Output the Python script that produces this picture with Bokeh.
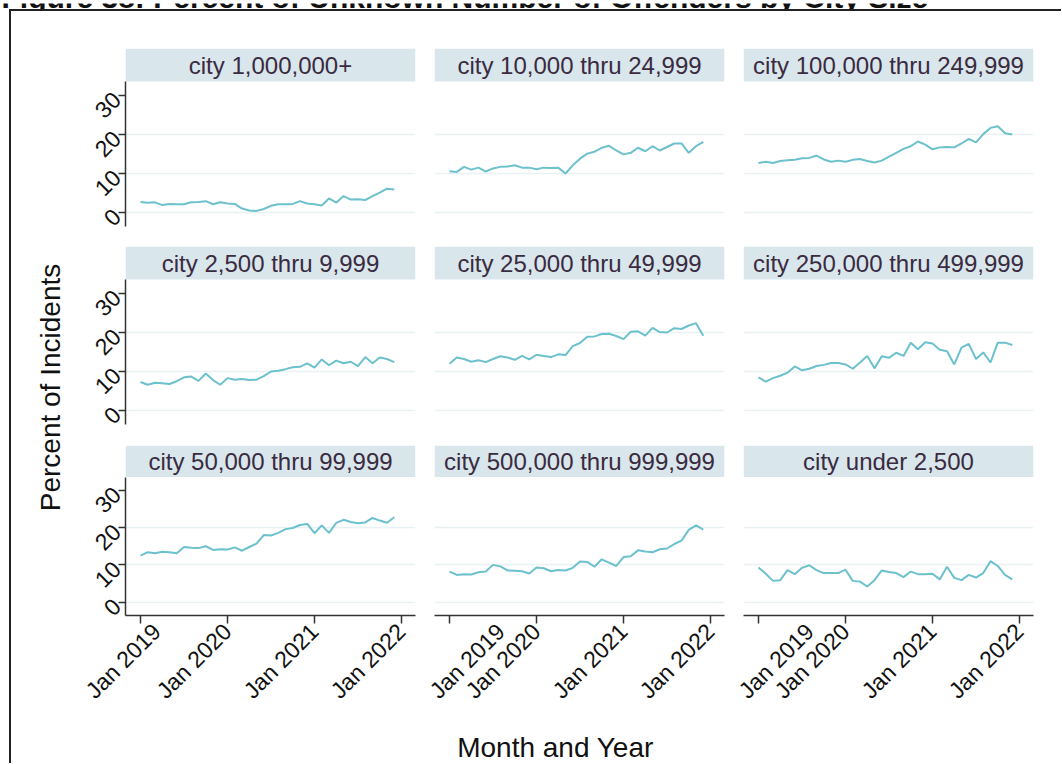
import math
from bokeh.plotting import figure
from bokeh.layouts import row, column
from bokeh.models import Range1d, FixedTicker, Div, Label
from bokeh.embed import file_html
from bokeh.resources import INLINE
from bokeh.core.properties import value

# ---------------- data ----------------
months = [f"{y}-{m:02d}" for y in (2019, 2020, 2021) for m in range(1, 13)]
month_pos = [(int(s[:4]) - 2019) * 12 + int(s[5:]) - 1 for s in months]

tick_months = [0, 12, 24, 36]
tick_labels = ["Jan 2019", "Jan 2020", "Jan 2021", "Jan 2022"]
y_ticks = [0, 10, 20, 30]

fig_title = "Figure 38: Percent of Unknown Number of Offenders by City Size"

panel_titles = [
    "city 1,000,000+", "city 10,000 thru 24,999", "city 100,000 thru 249,999",
    "city 2,500 thru 9,999", "city 25,000 thru 49,999", "city 250,000 thru 499,999",
    "city 50,000 thru 99,999", "city 500,000 thru 999,999", "city under 2,500",
]

city_1m_plus = [2.7, 2.5, 2.6, 1.9, 2.2, 2.1, 2.1, 2.6, 2.7, 2.9, 2.1, 2.6,
                2.3, 2.2, 1.0, 0.5, 0.4, 0.9, 1.7, 2.1, 2.1, 2.2, 2.9, 2.3,
                2.1, 1.8, 3.6, 2.5, 4.2, 3.3, 3.4, 3.2, 4.2, 5.1, 6.1, 5.9]
city_10k_25k = [10.6, 10.4, 11.7, 11.0, 11.5, 10.5, 11.3, 11.7, 11.8, 12.1, 11.5, 11.5,
                11.1, 11.5, 11.4, 11.5, 10.0, 12.1, 13.8, 15.1, 15.6, 16.6, 17.1, 15.9,
                14.9, 15.3, 16.6, 15.7, 17.0, 15.9, 16.8, 17.7, 17.7, 15.3, 17.0, 18.1]
city_100k_250k = [12.7, 13.0, 12.7, 13.2, 13.4, 13.5, 13.9, 14.0, 14.6, 13.6, 13.0, 13.3,
                  13.0, 13.5, 13.7, 13.2, 12.8, 13.3, 14.3, 15.3, 16.3, 17.0, 18.2, 17.4,
                  16.2, 16.7, 16.8, 16.7, 17.7, 18.9, 18.0, 20.1, 21.7, 22.1, 20.3, 20.0]
city_2500_10k = [7.3, 6.6, 7.1, 7.0, 6.8, 7.5, 8.5, 8.7, 7.6, 9.5, 7.8, 6.6,
                 8.3, 7.9, 8.1, 7.8, 7.9, 8.8, 10.0, 10.2, 10.6, 11.1, 11.2, 12.1,
                 11.0, 13.1, 11.6, 12.8, 12.1, 12.5, 11.4, 13.7, 12.1, 13.6, 13.2, 12.4]
city_25k_50k = [12.0, 13.6, 13.2, 12.5, 12.9, 12.4, 13.2, 13.9, 13.6, 13.0, 14.0, 13.1,
                14.3, 14.0, 13.7, 14.4, 14.2, 16.5, 17.3, 18.9, 19.0, 19.6, 19.7, 19.1,
                18.3, 20.2, 20.3, 19.2, 21.2, 20.1, 20.0, 21.1, 20.9, 21.8, 22.4, 19.2]
city_250k_500k = [8.5, 7.4, 8.3, 8.9, 9.7, 11.3, 10.3, 10.7, 11.4, 11.7, 12.2, 12.2,
                  11.8, 10.7, 12.3, 14.0, 10.8, 13.9, 13.5, 14.8, 14.0, 17.4, 15.7, 17.5,
                  17.2, 15.6, 15.2, 11.8, 16.1, 17.1, 13.2, 14.9, 12.3, 17.4, 17.4, 16.8]
city_50k_100k = [12.5, 13.4, 13.1, 13.5, 13.4, 13.1, 14.8, 14.6, 14.5, 15.0, 14.0, 14.2,
                 14.1, 14.7, 13.8, 14.8, 15.7, 18.0, 17.9, 18.6, 19.6, 19.9, 20.7, 21.0,
                 18.5, 20.6, 18.6, 21.3, 22.1, 21.5, 21.2, 21.4, 22.6, 21.9, 21.3, 22.8]
city_500k_1m = [8.2, 7.3, 7.5, 7.4, 8.0, 8.2, 10.0, 9.6, 8.5, 8.4, 8.3, 7.7,
                9.3, 9.1, 8.3, 8.6, 8.5, 9.2, 10.9, 10.8, 9.5, 11.5, 10.6, 9.7,
                12.1, 12.3, 13.9, 13.6, 13.4, 14.2, 14.4, 15.6, 16.5, 19.4, 20.6, 19.5]
city_under_2500 = [9.3, 7.6, 5.7, 5.9, 8.6, 7.5, 9.2, 9.9, 8.6, 7.8, 7.8, 7.8,
                   8.7, 5.7, 5.5, 4.2, 5.9, 8.5, 8.1, 7.8, 6.7, 8.2, 7.5, 7.5,
                   7.6, 6.1, 9.5, 6.5, 5.9, 7.3, 6.6, 7.8, 11.0, 9.7, 7.3, 6.1]

panel_values = [city_1m_plus, city_10k_25k, city_100k_250k,
                city_2500_10k, city_25k_50k, city_250k_500k,
                city_50k_100k, city_500k_1m, city_under_2500]

# ---------------- style ----------------
FONT = "Liberation Sans"
LINE_COLOR = "#6cc1cd"
STRIP_BG = "#d9e6ec"
STRIP_TEXT = "#3a2b40"
GRID_COLOR = "#e9f1f4"
AXIS_COLOR = "#333333"
TEXT_COLOR = "#111111"

FW, FH = 290, 178
STRIP_PX = 33
XMIN, XMAX = -2.07, 37.93
YMIN, YTOP = -3.6, 33.6
YMAX = YTOP + (YTOP - YMIN) / (FH - STRIP_PX) * STRIP_PX

col_borders = [(45, 9), (10, 9), (10, 9)]
row_borders = [(37, 10), (10, 10), (11, 92)]


def bare_figure(w, h):
    f = figure(width=w, height=h, x_range=Range1d(0, w), y_range=Range1d(0, h),
               output_backend="svg", toolbar_location=None, title=None,
               x_axis_location=None, y_axis_location=None,
               min_border_left=0, min_border_right=0, min_border_top=0, min_border_bottom=0)
    f.outline_line_color = None
    f.grid.visible = False
    return f


def style_axis(ax, tick_out, standoff):
    ax.major_label_orientation = math.pi / 4
    ax.major_tick_out = tick_out
    ax.major_tick_in = 0
    ax.minor_tick_line_color = None
    ax.axis_line_color = AXIS_COLOR
    ax.axis_line_width = 1.5
    ax.major_tick_line_color = AXIS_COLOR
    ax.major_tick_line_width = 1.5
    ax.major_label_text_font = FONT
    ax.major_label_text_font_size = "23px"
    ax.major_label_text_color = TEXT_COLOR
    ax.major_label_standoff = standoff


def make_panel(i):
    r, c = divmod(i, 3)
    bl, br = col_borders[c]
    bt, bb = row_borders[r]
    p = figure(width=bl + FW + br, height=bt + FH + bb,
               x_range=Range1d(XMIN, XMAX), y_range=Range1d(YMIN, YMAX),
               output_backend="svg", toolbar_location=None, title=None,
               x_axis_location="below" if r == 2 else None,
               y_axis_location="left" if c == 0 else None,
               min_border_left=bl, min_border_right=br,
               min_border_top=bt, min_border_bottom=bb)
    p.outline_line_color = None
    p.background_fill_color = "white"
    p.border_fill_color = "white"
    p.xgrid.visible = False
    p.ygrid.ticker = FixedTicker(ticks=[0, 10, 20])
    p.ygrid.grid_line_color = GRID_COLOR
    p.ygrid.grid_line_width = 1.5

    # facet strip
    p.quad(left=[XMIN], right=[XMAX], bottom=[YTOP], top=[YMAX],
           fill_color=STRIP_BG, line_color=None)
    p.text(x=[(XMIN + XMAX) / 2], y=[(YTOP + YMAX) / 2], text=[panel_titles[i]],
           text_align="center", text_baseline="middle",
           text_font=value(FONT), text_font_size="24px", text_color=STRIP_TEXT)

    p.line(month_pos, panel_values[i], line_color=LINE_COLOR, line_width=2)

    if c == 0:
        ax = p.yaxis[0]
        ax.ticker = FixedTicker(ticks=y_ticks)
        ax.bounds = (YMIN, YTOP)
        style_axis(ax, 7, 2)
    if r == 2:
        ax = p.xaxis[0]
        ax.ticker = FixedTicker(ticks=tick_months)
        ax.major_label_overrides = dict(zip(tick_months, tick_labels))
        style_axis(ax, 8, 4)
    return p


panels = [make_panel(i) for i in range(9)]
grid_rows = [row(panels[3 * k:3 * k + 3], spacing=0) for k in range(3)]

total_w = sum(a + FW + b for a, b in col_borders)
total_h = sum(a + FH + b for a, b in row_borders)

# x-axis title strip
XL_H = 48
px = bare_figure(total_w, XL_H)
px.add_layout(Label(x=475, y=16, text="Month and Year", text_align="center",
                    text_baseline="middle", text_font=FONT,
                    text_font_size="28px", text_color=TEXT_COLOR))

# y-axis title strip
YL_W = 69
full_h = total_h + XL_H
py = bare_figure(YL_W, full_h)
py.add_layout(Label(x=39, y=full_h - 376, text="Percent of Incidents", text_align="center",
                    text_baseline="middle", angle=math.pi / 2, text_font=FONT,
                    text_font_size="28px", text_color=TEXT_COLOR))

# figure title, cut off by the top edge as in the original
TT_H = 9
pt = bare_figure(1052, TT_H)
pt.add_layout(Label(x=1, y=-1.6, text=fig_title, text_align="left",
                    text_baseline="bottom", text_font=FONT, text_font_style="bold",
                    text_font_size="30px", text_color=TEXT_COLOR))

top_bar = Div(text="", width=1052, height=2, margin=(0, 0, 0, 9),
              styles={"background-color": "#222222"})
left_bar = Div(text="", width=2, height=full_h, margin=(0, 0, 0, 9),
               styles={"background-color": "#222222"})

layout = column([pt, top_bar,
                 row([left_bar, py, column(grid_rows + [px], spacing=0)], spacing=0)],
                spacing=0)

open("out.html", "w").write(file_html(layout, INLINE))
